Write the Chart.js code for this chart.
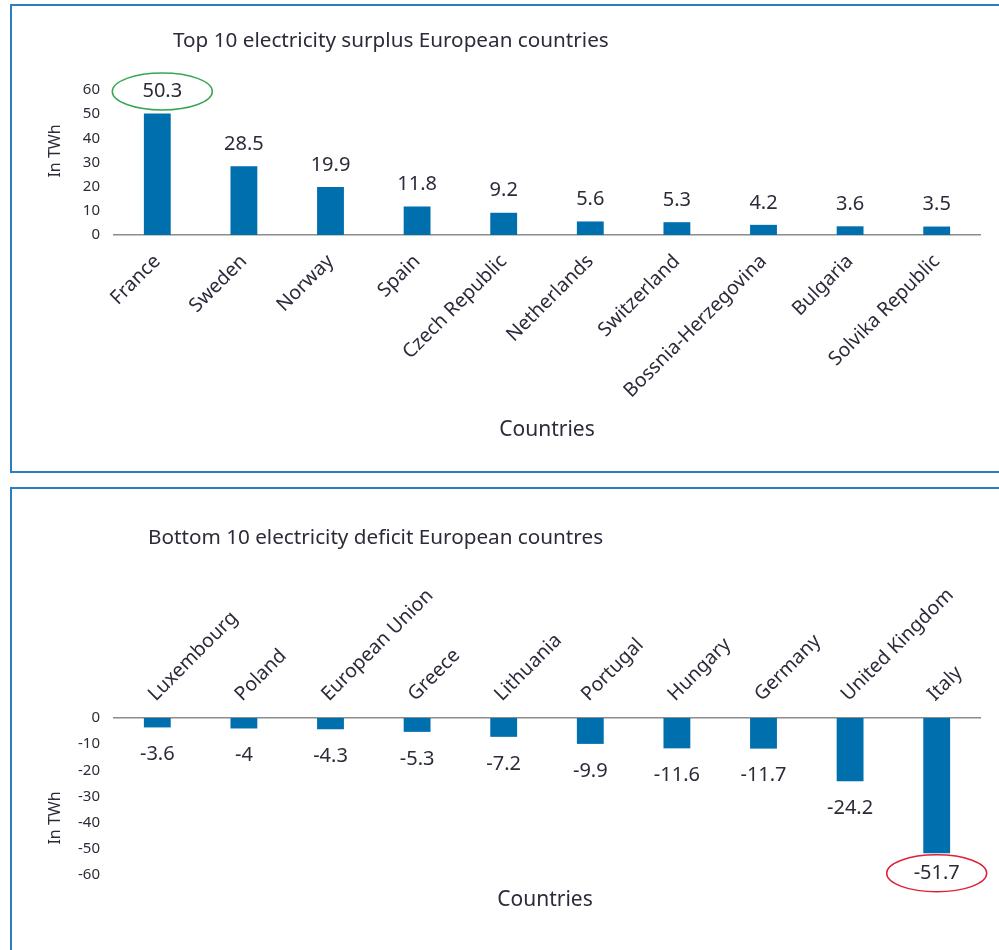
<!DOCTYPE html>
<html>
<head>
<meta charset="utf-8">
<script src="https://cdn.jsdelivr.net/npm/chart.js@4.4.1/dist/chart.umd.min.js"></script>
<style>
body{margin:0;background:#fff;width:999px;height:950px;overflow:hidden;position:relative}
.panel{position:absolute;border:2px solid #2a7fc1;border-right:none;box-sizing:border-box}
#p1{left:10px;top:4px;width:1000px;height:469px}
#p2{left:10px;top:487px;width:1000px;height:480px;border-bottom:none}
canvas{position:absolute;left:0}
#c1{top:0}
#c2{top:480px}
</style>
</head>
<body>
<div class="panel" id="p1"></div>
<div class="panel" id="p2"></div>
<canvas id="c1" width="999" height="472"></canvas>
<canvas id="c2" width="999" height="470"></canvas>
<script>
//data
const topCountries = ['France', 'Sweden', 'Norway', 'Spain', 'Czech Republic', 'Netherlands',
    'Switzerland', 'Bossnia-Herzegovina', 'Bulgaria', 'Solvika Republic'];
const topValues = [50.3, 28.5, 19.9, 11.8, 9.2, 5.6, 5.3, 4.2, 3.6, 3.5];
const bottomCountries = ['Luxembourg', 'Poland', 'European Union', 'Greece', 'Lithuania', 'Portugal',
    'Hungary', 'Germany', 'United Kingdom', 'Italy'];
const bottomValues = [-3.6, -4, -4.3, -5.3, -7.2, -9.9, -11.6, -11.7, -24.2, -51.7];

//style
const FONT = "'Noto Sans', sans-serif";
const textColor = '#2b2b3a';
const barBlue = '#006fae';
const axisGray = '#8c8c8c';

// value labels + ring around the extreme value
const valueLabels = {
    id: 'valueLabels',
    afterDatasetsDraw(chart, args, opts) {
        const { ctx } = chart;
        const values = chart.data.datasets[0].data;
        const bars = chart.getDatasetMeta(0).data;
        ctx.save();
        ctx.font = `${opts.size}px ${FONT}`;
        ctx.fillStyle = textColor;
        ctx.textAlign = 'center';
        ctx.textBaseline = 'middle';
        bars.forEach((bar, i) => {
            const hl = i === opts.highlight;
            const y = bar.y + (hl ? opts.hlOffset : opts.offset) * opts.dir;
            const x = bar.x + (hl ? opts.ringShift : 0);
            ctx.fillText(String(values[i]), x, y);
            if (hl) {
                ctx.beginPath();
                ctx.ellipse(x, y, 50, 18.5, 0, 0, Math.PI * 2);
                ctx.lineWidth = 1.5;
                ctx.strokeStyle = opts.ringColor;
                ctx.stroke();
            }
        });
        ctx.restore();
    }
};

// free texts: titles, axis notes
const freeTexts = {
    id: 'freeTexts',
    afterDraw(chart, args, opts) {
        const { ctx } = chart;
        opts.items.forEach(t => {
            ctx.save();
            ctx.font = `${t.size}px ${FONT}`;
            ctx.fillStyle = textColor;
            ctx.textAlign = t.align || 'center';
            ctx.textBaseline = 'middle';
            ctx.translate(t.x, t.y);
            if (t.rotate) ctx.rotate(t.rotate);
            ctx.fillText(t.text, 0, 0);
            ctx.restore();
        });
    }
};

const barChart = (ctx, labels, values, cfg) => {
    const data = {
        labels: labels,
        datasets: [{
            data: values,
            backgroundColor: barBlue,
            borderWidth: 0,
            barPercentage: 0.31,
            categoryPercentage: 1,
        }]
    };

    const config = {
        type: 'bar',
        data: data,
        options: {
            responsive: false,
            animation: false,
            layout: { padding: cfg.padding },
            scales: {
                x: {
                    position: cfg.xPosition,
                    grid: { display: false, drawTicks: false },
                    border: { display: true, color: axisGray, width: 1.5 },
                    ticks: {
                        minRotation: 45,
                        maxRotation: 45,
                        padding: cfg.xTickPad,
                        labelOffset: cfg.xLabelShift,
                        color: textColor,
                        font: { family: FONT, size: 19.5 },
                    },
                    title: cfg.xTitle,
                    afterFit: (scale) => { scale.height = cfg.xHeight; },
                },
                y: {
                    min: cfg.min,
                    max: cfg.max,
                    grid: { display: false, drawTicks: false },
                    border: { display: false },
                    ticks: {
                        stepSize: 10,
                        padding: 14,
                        color: textColor,
                        font: { family: FONT, size: 15 },
                    },
                    afterFit: (scale) => { scale.width = 114; },
                },
            },
            plugins: {
                legend: { display: false },
                tooltip: { enabled: false },
                valueLabels: cfg.valueLabels,
                freeTexts: { items: cfg.texts },
            }
        },
        plugins: [valueLabels, freeTexts]
    };
    return new Chart(ctx, config);
}

//element
const ctx1 = document.getElementById('c1');
const ctx2 = document.getElementById('c2');

//instantiating Chart
const surplusChart = barChart(ctx1, topCountries, topValues, {
    padding: { left: 0, right: 19, top: 90, bottom: 0 },
    xPosition: 'bottom',
    xHeight: 237,
    xTickPad: 15,
    xLabelShift: 0,
    min: 0,
    max: 60,
    xTitle: {
        display: true,
        text: 'Countries',
        color: textColor,
        font: { family: FONT, size: 21 },
        padding: { top: 0, bottom: 29 },
    },
    valueLabels: {
        size: 20, dir: -1, offset: 22, hlOffset: 22,
        highlight: topValues.indexOf(Math.max(...topValues)),
        ringColor: '#3aa655', ringShift: 5,
    },
    texts: [
        { text: 'Top 10 electricity surplus European countries', x: 173, y: 41, size: 20.7, align: 'left' },
        { text: 'In TWh', x: 55, y: 151, size: 16, rotate: -Math.PI / 2 },
    ],
});

const deficitChart = barChart(ctx2, bottomCountries, bottomValues, {
    padding: { left: 0, right: 19, top: 0, bottom: 75 },
    xPosition: 'top',
    xHeight: 238,
    xTickPad: 12,
    xLabelShift: 11,
    min: -60,
    max: 0,
    xTitle: { display: false },
    valueLabels: {
        size: 20, dir: 1, offset: 27, hlOffset: 20,
        highlight: bottomValues.indexOf(Math.min(...bottomValues)),
        ringColor: '#e0203a', ringShift: 0,
    },
    texts: [
        { text: 'Bottom 10 electricity deficit European countres', x: 148, y: 58, size: 20.7, align: 'left' },
        { text: 'In TWh', x: 55, y: 338, size: 16, rotate: -Math.PI / 2 },
        { text: 'Countries', x: 545, y: 420, size: 21 },
    ],
});
</script>
</body>
</html>
